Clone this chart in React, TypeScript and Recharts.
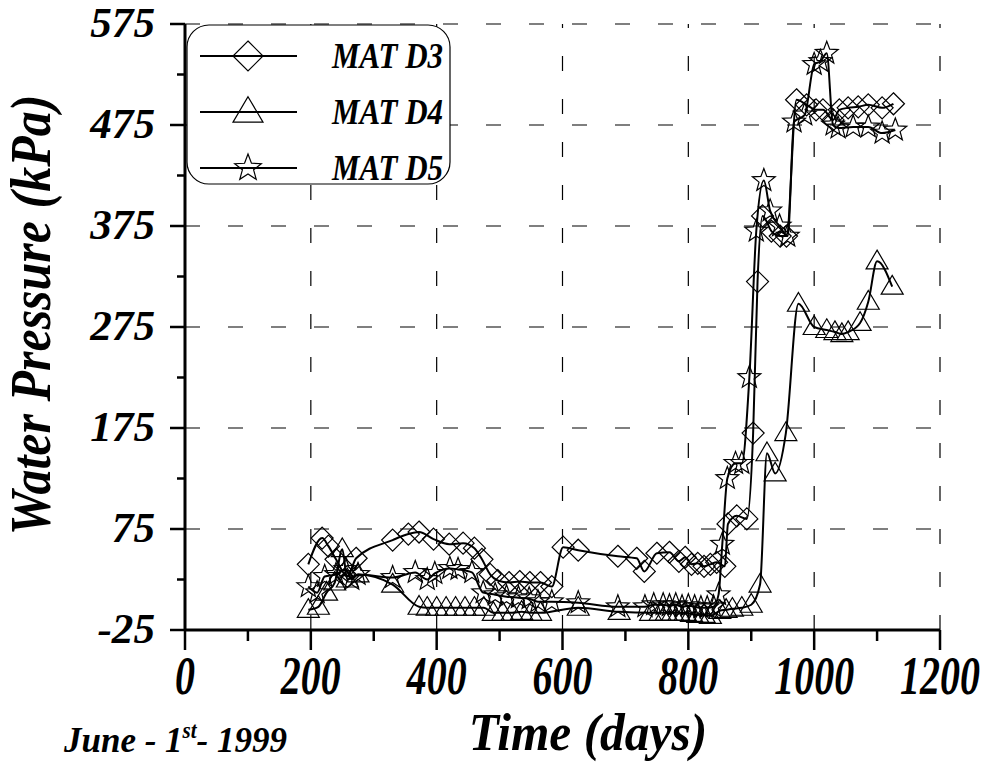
import React from "react";
import { LineChart, Line, XAxis, YAxis, ReferenceLine, Legend } from "recharts";

// [day, kPa]
const matD3: [number, number][] = [
  [196, 40], [218, 66], [228, 58], [240, 45], [258, 28], [272, 46], [330, 64], [355, 70],
  [372, 72], [395, 65], [420, 60], [442, 61], [460, 56], [472, 45], [485, 30], [497, 24],
  [515, 22], [532, 23], [548, 22], [565, 22], [583, 18], [601, 57], [625, 54], [688, 48],
  [718, 46], [730, 33], [750, 51], [770, 52], [785, 43], [795, 47], [805, 40], [815, 41],
  [825, 38], [835, 40], [845, 42], [858, 38], [863, 80], [877, 88], [893, 85], [903, 170],
  [910, 320], [918, 385], [932, 370], [946, 365], [956, 365], [972, 500], [988, 495],
  [1003, 490], [1014, 490], [1030, 480], [1040, 490], [1054, 492], [1070, 493], [1086, 495],
  [1108, 492], [1126, 496],
];

const matD4: [number, number][] = [
  [196, -5], [212, -2], [225, 12], [238, 22], [250, 55], [258, 25], [275, 30], [330, 20],
  [372, -2], [385, -3], [400, -3], [415, -3], [430, -3], [445, -3], [460, -3], [475, -3],
  [490, -8], [505, -8], [520, -8], [535, -7], [550, -8], [565, -8], [625, -3], [690, -7],
  [740, -8], [755, -8], [765, -8], [775, -8], [785, -8], [795, -8], [805, -9], [815, -10],
  [825, -10], [835, -11], [850, -6], [860, -5], [870, -4], [885, -3], [900, 0], [914, 20],
  [925, 150], [938, 130], [955, 170], [975, 298], [1000, 275], [1020, 272], [1033, 270],
  [1044, 268], [1054, 270], [1073, 279], [1086, 300], [1100, 340], [1124, 315],
];

const matD5: [number, number][] = [
  [196, 18], [210, 12], [222, 28], [240, 30], [255, 35], [265, 25], [275, 30], [330, 27],
  [366, 32], [385, 25], [397, 31], [421, 36], [434, 35], [456, 32], [474, 12], [493, 10],
  [511, 8], [530, 7], [547, 6], [561, 3], [583, 3], [625, 2], [688, -2], [731, -2],
  [745, 0], [760, 0], [770, -1], [780, 0], [790, -2], [800, -1], [810, -2], [820, -3],
  [830, -3], [840, -2], [848, 10], [854, 60], [862, 125], [875, 140], [885, 140], [897, 225],
  [908, 370], [920, 420], [930, 390], [945, 375], [958, 365], [968, 478], [985, 485],
  [1000, 535], [1010, 538], [1020, 546], [1030, 475], [1038, 472], [1062, 473], [1086, 473],
  [1108, 467], [1129, 470],
];

const xMajor = [0, 200, 400, 600, 800, 1000, 1200];
const xMinor = [100, 300, 500, 700, 900, 1100];
const yMajor = [-25, 75, 175, 275, 375, 475, 575];
const yMinor = [25, 125, 225, 325, 425, 525];
const seriesNames = ["MAT D3", "MAT D4", "MAT D5"];

const FONT = "'Liberation Serif', 'Times New Roman', serif";
const toRows = (pts: [number, number][]) => pts.map(([d, v]) => ({ d, v }));

function Diamond({ cx, cy, r = 11 }: any) {
  return (
    <path d={`M${cx},${cy - r}L${cx + r},${cy}L${cx},${cy + r}L${cx - r},${cy}Z`}
      fill="none" stroke="#000" strokeWidth={1.2} />
  );
}

function Triangle({ cx, cy, r = 11 }: any) {
  const h = r * 1.7;
  return (
    <path d={`M${cx},${cy - h * 0.6}L${cx + r},${cy + h * 0.4}L${cx - r},${cy + h * 0.4}Z`}
      fill="none" stroke="#000" strokeWidth={1.2} />
  );
}

function Star({ cx, cy, r = 12 }: any) {
  const pts: string[] = [];
  for (let i = 0; i < 10; i++) {
    const rad = i % 2 === 0 ? r : r * 0.42;
    const a = -Math.PI / 2 + (i * Math.PI) / 5;
    pts.push(`${cx + rad * Math.cos(a)},${cy + rad * Math.sin(a)}`);
  }
  return <polygon points={pts.join(" ")} fill="none" stroke="#000" strokeWidth={1.2} />;
}

const markers = [Diamond, Triangle, Star];

// bold italic serif, stretched a little taller like the original
function Txt({ x, y, sx = 1, sy = 1, size, anchor = "start", rotate = 0, children }: any) {
  return (
    <text transform={`translate(${x},${y}) rotate(${rotate}) scale(${sx},${sy})`} textAnchor={anchor}
      fontFamily={FONT} fontWeight="bold" fontStyle="italic" fontSize={size} fill="#000">
      {children}
    </text>
  );
}

function YTick({ x, y, payload }: any) {
  const major = yMajor.includes(payload.value);
  return (
    <g>
      <line x1={x - (major ? 15 : 8)} x2={x} y1={y} y2={y} stroke="#000" strokeWidth={2.5} />
      {major && <Txt x={x - 30} y={y + 13} size={40} sx={1.08} sy={1.05} anchor="end">{payload.value}</Txt>}
    </g>
  );
}

function XTick({ x, y, payload }: any) {
  const major = xMajor.includes(payload.value);
  return (
    <g>
      <line x1={x} x2={x} y1={y} y2={y + (major ? 20 : 11)} stroke="#000" strokeWidth={2.5} />
      {major && <Txt x={x} y={y + 64} size={40} sx={1} sy={1.35} anchor="middle">{payload.value}</Txt>}
    </g>
  );
}

function LegendBox() {
  return (
    <svg width={266} height={162} style={{ display: "block" }}>
      <rect x={1} y={1} width={263} height={159} rx={22} ry={22} fill="#fff" stroke="#000" strokeWidth={1.2} />
      {seriesNames.map((name, i) => {
        const y = 32 + i * 56;
        const M = markers[i];
        return (
          <g key={name}>
            <line x1={14} x2={111} y1={y} y2={y} stroke="#000" strokeWidth={2} />
            <M cx={62} cy={y} r={i === 2 ? 14 : 15} />
            <Txt x={146} y={y + 12} size={31} sx={1} sy={1.15}>{name}</Txt>
          </g>
        );
      })}
    </svg>
  );
}

export default function App() {
  const all = [matD3, matD4, matD5];
  return (
    <div style={{ position: "absolute", left: 0, top: 0, width: 991, height: 767, background: "#fff" }}>
      <LineChart width={991} height={767} margin={{ top: 24, right: 51, bottom: 0, left: 0 }}>
        <XAxis type="number" dataKey="d" domain={[0, 1200]} ticks={[...xMajor, ...xMinor].sort((a, b) => a - b)}
          interval={0} allowDataOverflow tickSize={0} tickMargin={0} tick={<XTick />}
          axisLine={{ stroke: "#000", strokeWidth: 3 }} height={137} />
        <YAxis type="number" dataKey="v" domain={[-25, 575]} ticks={[...yMajor, ...yMinor].sort((a, b) => a - b)}
          interval={0} allowDataOverflow tickSize={0} tickMargin={0} tick={<YTick />}
          axisLine={{ stroke: "#000", strokeWidth: 3 }} width={185} />
        {yMajor.slice(1).map((v) => (
          <ReferenceLine key={`h${v}`} y={v} stroke="#000" strokeWidth={1.2} strokeDasharray="15 28" />
        ))}
        {xMajor.slice(1).map((v) => (
          <ReferenceLine key={`v${v}`} x={v} stroke="#000" strokeWidth={1.2} strokeDasharray="15 28" />
        ))}
        {all.map((pts, i) => {
          const M = markers[i];
          return (
            <Line key={seriesNames[i]} name={seriesNames[i]} data={toRows(pts)} dataKey="v" type="monotone"
              stroke="#000" strokeWidth={2} isAnimationActive={false}
              dot={(p: any) => <M key={`${i}-${p.index}`} cx={p.cx} cy={p.cy} />} activeDot={false} />
          );
        })}
        <Legend layout="horizontal" verticalAlign="middle" align="center" content={() => <LegendBox />}
          wrapperStyle={{ position: "absolute", left: 186, top: 24, width: 266, height: 162 }} />
      </LineChart>
      <svg width={991} height={767} style={{ position: "absolute", left: 0, top: 0, pointerEvents: "none" }}>
        <Txt x={50} y={315} rotate={-90} size={50} sx={1} sy={1.15} anchor="middle">Water Pressure (kPa)</Txt>
        <Txt x={588} y={750} size={48} sx={1.03} sy={1.12} anchor="middle">Time (days)</Txt>
        <Txt x={64} y={752} size={35} sx={1} sy={1.05}>
          June - 1<tspan fontSize={21} dy={-13}>st</tspan><tspan dy={13}>- 1999</tspan>
        </Txt>
      </svg>
    </div>
  );
}
